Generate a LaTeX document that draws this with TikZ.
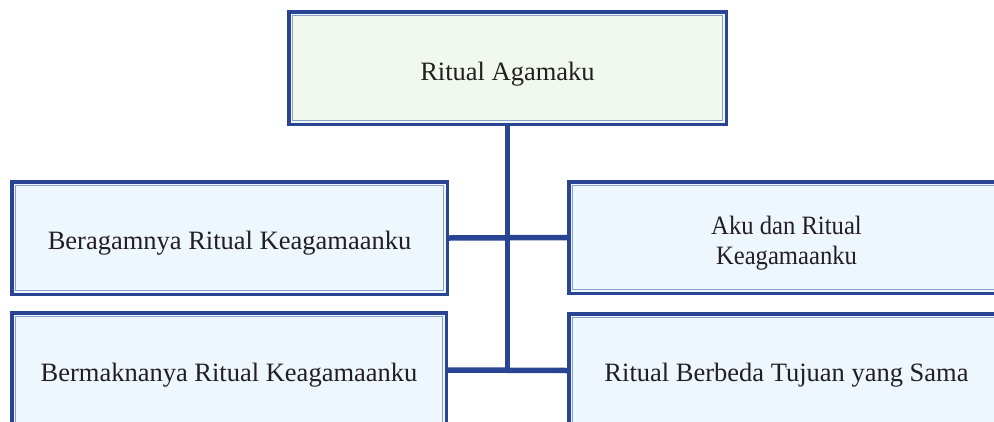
\documentclass[tikz,border=0pt]{standalone}
\usepackage{fontspec}
\setmainfont{Liberation Serif}
\newfontfamily\condfont[FakeStretch=0.93]{Liberation Serif}
\definecolor{frameblue}{HTML}{2A4494}
\definecolor{innerblue}{HTML}{8A9FCC}
\definecolor{fillblue}{HTML}{EEF6FE}
\definecolor{fillgreen}{HTML}{F1F8EE}
\definecolor{textgray}{HTML}{231F20}
\tikzset{
  boxframe/.style={draw=frameblue, line width=3.5pt, inner sep=0pt,
    text=textgray, font=\fontsize{26.5}{30}\selectfont,
    path picture={\draw[innerblue, line width=1.3pt]
      ([shift={(3.7pt,-3.7pt)}]path picture bounding box.north west) rectangle
      ([shift={(-3.7pt,3.7pt)}]path picture bounding box.south east);}},
  onebox/.style={boxframe, text height=23pt, text depth=1pt},
  link/.style={draw=frameblue, line width=5.5pt}
}
\begin{document}
\begin{tikzpicture}[x=1pt,y=-1pt]
\useasboundingbox (0,0) rectangle (994,421);
\clip (0,0) rectangle (994,421);
\node[onebox, text height=25pt, fill=fillgreen, minimum width=437.5pt, minimum height=112.5pt]
  (top) at (507.5,68) {Ritual Agamaku};
\node[onebox, fill=fillblue, minimum width=435.5pt, minimum height=112.5pt]
  (l1) at (229.5,238) {Beragamnya Ritual Keagamaanku};
\node[boxframe, fill=fillblue, align=center, minimum width=435.5pt, minimum height=111.5pt, font=\condfont\fontsize{26.5}{30}\selectfont]
  (r1) at (786.5,237.5) {\rule{0pt}{30pt}Aku dan Ritual\\Keagamaanku};
\node[onebox, fill=fillblue, minimum width=434.5pt, minimum height=114.5pt]
  (l2) at (229,370) {Bermaknanya Ritual Keagamaanku};
\node[onebox, fill=fillblue, minimum width=435.5pt, minimum height=113.5pt]
  (r2) at (786.5,370.5) {Ritual Berbeda Tujuan yang Sama};
\coordinate (joinlow) at (top.south |- l2.east);
\draw[link] (l1.east) -- (r1.west);
\draw[link] (l2.east) -- (r2.west);
\draw[link] (top.south) -- ([yshift=-2.75pt]joinlow);
\end{tikzpicture}
\end{document}
